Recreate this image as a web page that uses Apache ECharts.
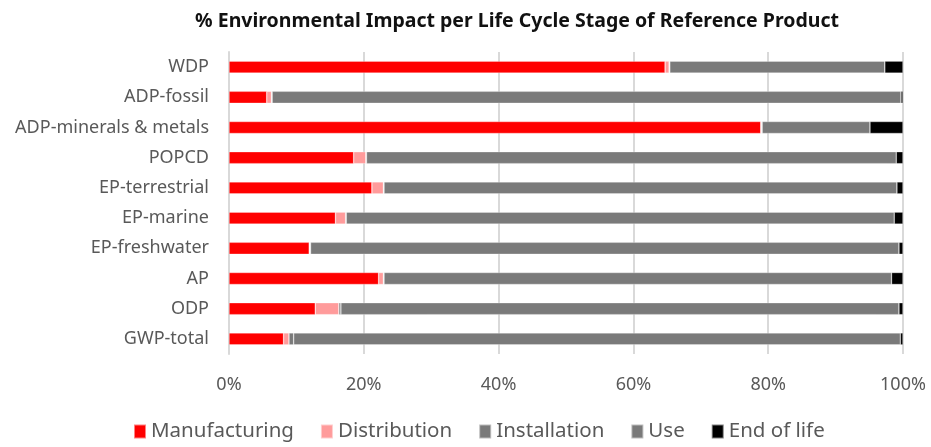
<!DOCTYPE html>
<html><head><meta charset="utf-8">
<script src="https://cdn.jsdelivr.net/npm/echarts@6/dist/echarts.min.js"></script>
<style>html,body{margin:0;padding:0;background:#fff}#c{width:931px;height:447px}</style>
</head><body><div id="c"></div>
<script>
const categories = ["GWP-total","ODP","AP","EP-freshwater","EP-marine","EP-terrestrial","POPCD","ADP-minerals & metals","ADP-fossil","WDP"];
const manufacturing = [8.1, 12.8, 22.2, 11.9, 15.8, 21.2, 18.5, 78.9, 5.6, 64.7];
const distribution  = [0.8, 3.5, 0.7, 0.1, 1.5, 1.7, 1.8, 0.1, 0.7, 0.6];
const installation  = [0.7, 0.3, 0.1, 0.1, 0.1, 0.1, 0.1, 0.1, 0.1, 0.1];
const endOfLife     = [0.4, 0.6, 1.7, 0.6, 1.3, 0.9, 1.0, 4.9, 0.3, 2.7];
const use = categories.map((_, i) => +(100 - manufacturing[i] - distribution[i] - installation[i] - endOfLife[i]).toFixed(2));
const seriesNames = ["Manufacturing","Distribution","Installation","Use","End of life"];
const xTicks = [0, 20, 40, 60, 80, 100];

const colors = ["#FF0000","#FF9B9B","#7A7A7A","#7A7A7A","#000000"];
const dataSets = [manufacturing, distribution, installation, use, endOfLife];
const font = "'Noto Sans', sans-serif";
const chart = echarts.init(document.getElementById('c'));
chart.setOption({
  animation: false,
  title: { text: "% Environmental Impact per Life Cycle Stage of Reference Product", left: 512, textAlign: 'center', top: 6,
    textStyle: { fontFamily: font, fontSize: 19.5, fontWeight: 'bold', color: '#111' } },
  legend: { bottom: 0, left: 128, itemWidth: 12, itemHeight: 14, itemGap: 26, icon: 'rect',
    textStyle: { fontFamily: font, fontSize: 20.5, color: '#595959', padding: [0, 0, 0, 0] }, data: seriesNames },
  grid: { left: 229, right: 28, top: 52, bottom: 93 },
  xAxis: { type: 'value', min: xTicks[0], max: xTicks[xTicks.length-1], interval: 20,
    axisLabel: { formatter: '{value}%', fontFamily: font, fontSize: 18, color: '#595959', margin: 22 },
    splitLine: { lineStyle: { color: '#D9D9D9', width: 2 } }, axisLine: { show: false }, axisTick: { show: false } },
  yAxis: { type: 'category', data: categories,
    axisLabel: { fontFamily: font, fontSize: 18, color: '#595959', margin: 20 },
    axisLine: { lineStyle: { color: '#D9D9D9', width: 2 } }, axisTick: { show: false } },
  series: seriesNames.map((n, i) => ({
    name: n, type: 'bar', stack: 'total', barWidth: 12, data: dataSets[i],
    itemStyle: { color: colors[i], borderColor: 'rgba(255,255,255,0.5)', borderWidth: 0.6 }
  }))
});
</script></body></html>
